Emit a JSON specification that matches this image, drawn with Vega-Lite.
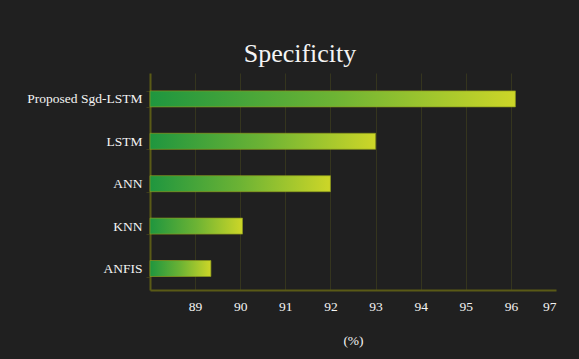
{
  "$schema": "https://vega.github.io/schema/vega-lite/v6.json",
  "autosize": "none",
  "width": 406,
  "height": 217,
  "padding": {"left": 150, "top": 73, "right": 23, "bottom": 69},
  "background": "#202020",
  "title": {
    "text": "Specificity",
    "font": "Liberation Serif",
    "fontSize": 26,
    "fontWeight": "normal",
    "color": "#f4f4f4",
    "anchor": "middle",
    "dx": -53,
    "offset": -1
  },
  "data": {
    "values": [
      {"model": "Proposed Sgd-LSTM", "specificity": 96.1},
      {"model": "LSTM", "specificity": 93.0},
      {"model": "ANN", "specificity": 92.0},
      {"model": "KNN", "specificity": 90.05},
      {"model": "ANFIS", "specificity": 89.35}
    ]
  },
  "mark": {
    "type": "bar",
    "stroke": "#8c9a1c",
    "strokeWidth": 1,
    "strokeOpacity": 0.7,
    "color": {
      "gradient": "linear",
      "x1": 0, "x2": 1, "y1": 0, "y2": 0,
      "stops": [
        {"offset": 0, "color": "#1f963f"},
        {"offset": 0.5, "color": "#6cb334"},
        {"offset": 1, "color": "#cdd628"}
      ]
    }
  },
  "encoding": {
    "y": {
      "field": "model",
      "type": "nominal",
      "sort": null,
      "scale": {"paddingInner": 0.623, "paddingOuter": 0.37, "align": 0.57},
      "axis": {
        "title": null,
        "labelFont": "Liberation Serif",
        "labelFontSize": 13.5,
        "labelColor": "#f4f4f4",
        "labelPadding": 4,
        "tickBand": "extent",
        "tickColor": "#3c3c1c",
        "tickSize": 4,
        "domainColor": "#5a5a16",
        "domainWidth": 2,
        "grid": false
      }
    },
    "x": {
      "field": "specificity",
      "type": "quantitative",
      "scale": {"domain": [88, 97], "nice": false, "zero": false},
      "axis": {
        "title": "(%)",
        "titleFont": "Liberation Serif",
        "titleFontSize": 13.5,
        "titleFontWeight": "normal",
        "titleColor": "#f4f4f4",
        "titlePadding": 21,
        "values": [89, 90, 91, 92, 93, 94, 95, 96, 97],
        "labelFont": "Liberation Serif",
        "labelFontSize": 13.5,
        "labelColor": "#f4f4f4",
        "labelPadding": 9,
        "ticks": false,
        "domainColor": "#5a5a16",
        "domainWidth": 2,
        "grid": true,
        "gridColor": "#35351e",
        "gridWidth": 1,
        "gridOpacity": {"condition": {"test": "datum.value === 97", "value": 0}, "value": 1}
      }
    },
    "x2": {"datum": 88}
  },
  "config": {
    "view": {"stroke": null}
  }
}
